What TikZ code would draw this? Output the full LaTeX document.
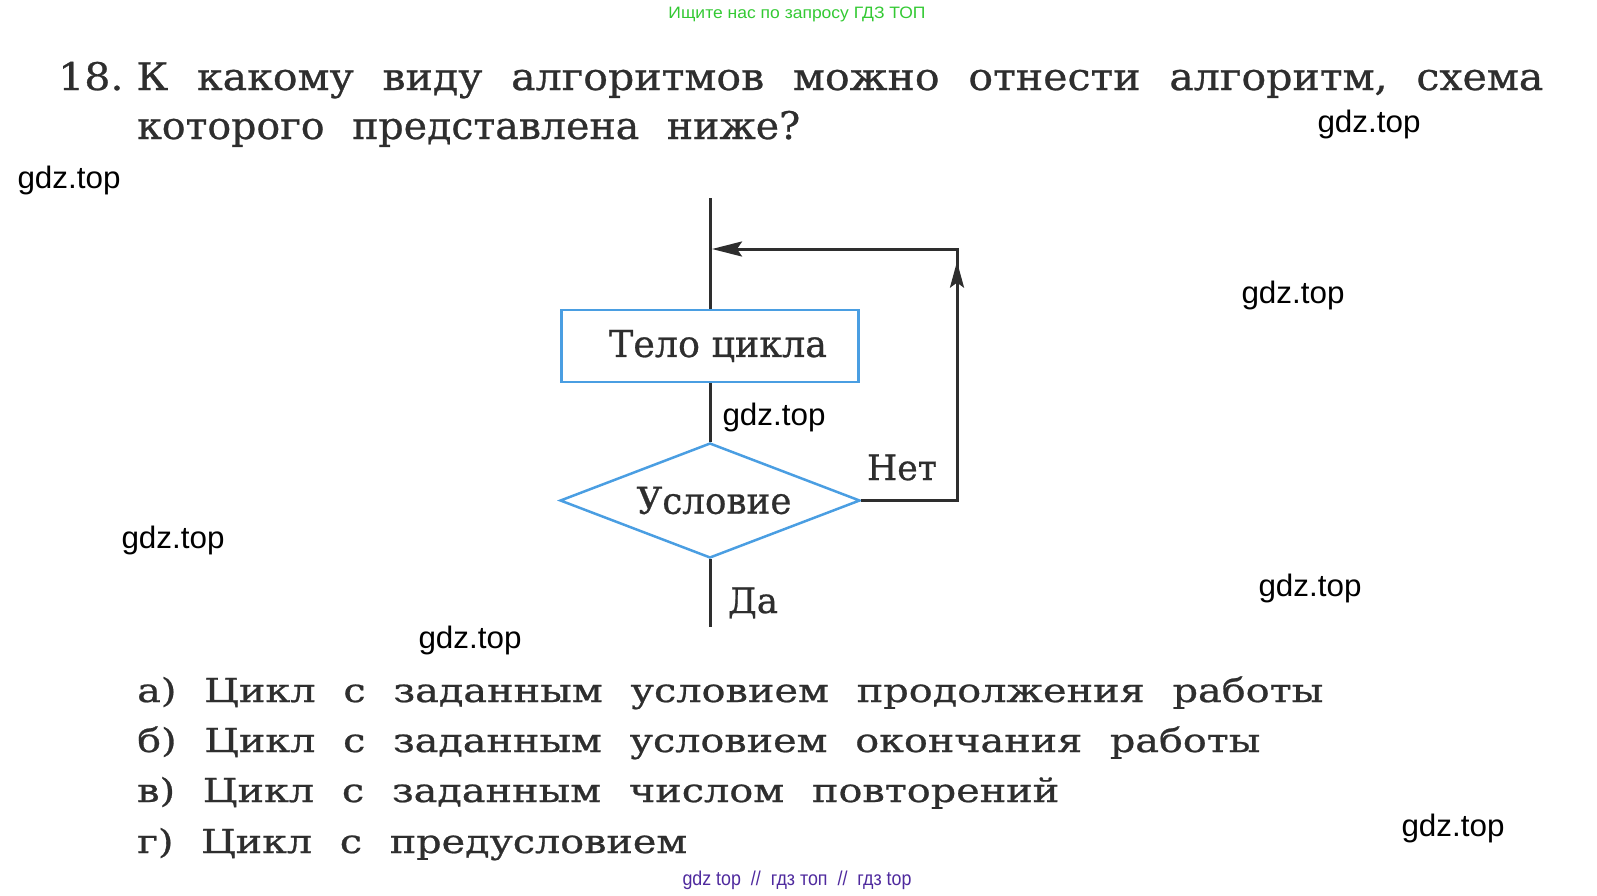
\documentclass[tikz,border=0pt]{standalone}
\usepackage{fontspec}
\setmainfont{DejaVu Serif}[WordSpace=2.2, FakeBold=0.7]
\newfontfamily\boxfont{DejaVu Serif}[FakeBold=0.7]
\newfontfamily\wmfont{Liberation Sans}
\usetikzlibrary{shapes.geometric,arrows.meta,decorations.markings}
\definecolor{ink}{HTML}{2E2E2E}
\definecolor{boxblue}{HTML}{4A9EE2}
\definecolor{adgreen}{HTML}{33C933}
\definecolor{adpurple}{HTML}{4F2A9E}
\newcommand{\fitw}[2]{\resizebox{#1}{\height}{#2}}
\tikzset{
  txt/.style={anchor=base west, inner sep=0, text=ink},
  lbl/.style={anchor=base, inner sep=0, text=ink, font=\boxfont\fontsize{35}{35}\selectfont},
  wm/.style={anchor=base, inner sep=0, font=\wmfont\fontsize{31}{31}\selectfont},
  body/.style={draw=boxblue, line width=2.5pt, minimum width=297pt, minimum height=72pt, inner sep=0, text=ink},
  cond/.style={diamond, draw=boxblue, line width=2.5pt, aspect=2.6, minimum width=300pt, minimum height=115pt, inner sep=0, text=ink},
  flow/.style={draw=ink, line width=3pt},
  tip/.style={-{Stealth[length=30pt, width=15pt, inset=5pt]}}
}
\begin{document}
\begin{tikzpicture}[x=1pt, y=-1pt]
  \useasboundingbox (0,0) rectangle (1597,895);
  \node[anchor=base, inner sep=0, text=adgreen, font=\wmfont\fontsize{16.5}{16.5}\selectfont] (ad) at (797,18) {\fitw{257pt}{Ищите нас по запросу ГДЗ ТОП}};
  \node[txt, font=\fontsize{38}{38}\selectfont] (q1) at (58,90) {\fitw{1485pt}{18.\hspace{12pt}К какому виду алгоритмов можно отнести алгоритм, схема}};
  \node[txt, font=\fontsize{38}{38}\selectfont] (q2) at (137,139) {\fitw{663pt}{которого представлена ниже?}};
  \node[body, font=\boxfont\fontsize{37}{37}\selectfont] (bd) at (710,346) {\hspace*{16pt}\fitw{218pt}{Тело цикла}};
  \node[cond, font=\boxfont\fontsize{37}{37}\selectfont] (cd) at (710,500.5) {\hspace*{8pt}\fitw{155pt}{Условие}};
  \coordinate (top) at (710,198);
  \coordinate (bot) at (710,627);
  \coordinate (ne) at (957,249);
  \coordinate (jn) at (712,249);
  \node[lbl] (no) at (902,480) {\fitw{70pt}{Нет}};
  \node[lbl] (yes) at (753,613) {\fitw{50pt}{Да}};
  \draw [flow] (top) -- (bd.north);
  \draw [flow] (bd.south) -- (cd.north);
  \draw [flow] (cd.south) -- (bot);
  \draw [flow, tip, postaction={decorate, decoration={markings,
      mark=at position 0.565 with {\arrow{Stealth[length=26pt, width=14pt, inset=5pt]}}}}]
    (cd.east) -| (ne) -- (jn);
  \node[txt, font=\fontsize{33}{33}\selectfont] (a1) at (137,702) {\fitw{1186pt}{а) Цикл с заданным условием продолжения работы}};
  \node[txt, font=\fontsize{33}{33}\selectfont] (a2) at (137,752) {\fitw{1123pt}{б) Цикл с заданным условием окончания работы}};
  \node[txt, font=\fontsize{33}{33}\selectfont] (a3) at (137,802) {\fitw{922pt}{в) Цикл с заданным числом повторений}};
  \node[txt, font=\fontsize{33}{33}\selectfont] (a4) at (137,853) {\fitw{550pt}{г) Цикл с предусловием}};
  \node[wm] (w1) at (1369,132) {\fitw{103pt}{gdz.top}};
  \node[wm] (w2) at (69,188) {\fitw{103pt}{gdz.top}};
  \node[wm] (w3) at (1293,303) {\fitw{103pt}{gdz.top}};
  \node[wm] (w4) at (774,425) {\fitw{103pt}{gdz.top}};
  \node[wm] (w5) at (173,548) {\fitw{103pt}{gdz.top}};
  \node[wm] (w6) at (1310,596) {\fitw{103pt}{gdz.top}};
  \node[wm] (w7) at (470,648) {\fitw{103pt}{gdz.top}};
  \node[wm] (w8) at (1453,836) {\fitw{103pt}{gdz.top}};
  \node[anchor=base, inner sep=0, text=adpurple, font=\wmfont\fontsize{20}{20}\selectfont] (foot) at (797,885) {\fitw{229pt}{gdz top \ // \ гдз топ \ // \ гдз top}};
\end{tikzpicture}
\end{document}
